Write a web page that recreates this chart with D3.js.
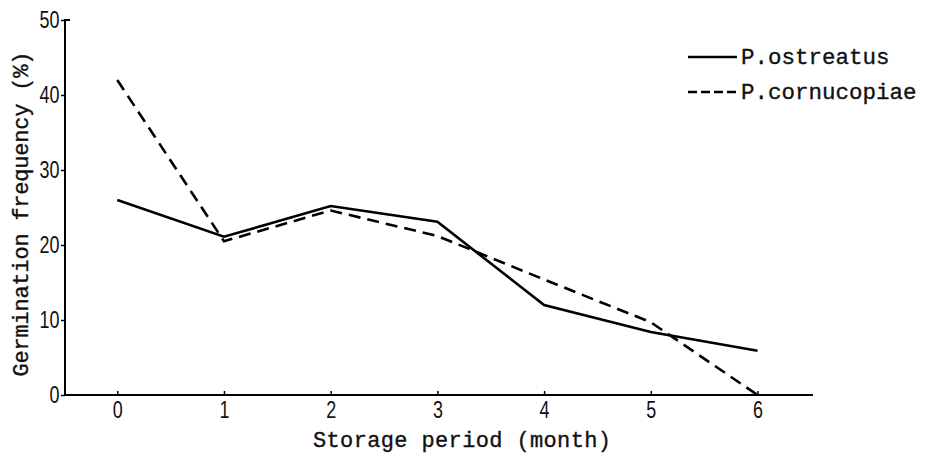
<!DOCTYPE html>
<html>
<head>
<meta charset="utf-8">
<script src="https://cdn.jsdelivr.net/npm/d3@7/dist/d3.min.js"></script>
<style>
  body { margin: 0; background: #fff; }
  .mono { font-family: "Liberation Mono", "Courier New", monospace; fill: #111; stroke: #111; stroke-width: 0.35px; }
  .num { font-family: "Liberation Sans", Arial, sans-serif; }
</style>
</head>
<body>
<script>
// months of storage
var months = [0, 1, 2, 3, 4, 5, 6];

// germination frequency (%)
var ostreatus   = [26, 21.1, 25.2, 23.1, 12.0, 8.4, 5.9];
var cornucopiae = [42, 20.5, 24.6, 21.2, 15.4, 9.7, 0];

var seriesNames = ["P.ostreatus", "P.cornucopiae"];
var yTicks = [0, 10, 20, 30, 40, 50];

var width = 925, height = 458;

var svg = d3.select("body").append("svg")
    .attr("width", width)
    .attr("height", height);

// scales - x runs a bit past 0 and 6 like the original
var x = d3.scaleLinear().domain([-0.49, 6.52]).range([65, 813]);
var y = d3.scaleLinear().domain([0, 50]).range([395, 20]);

// y axis
var yAxis = d3.axisLeft(y).tickValues(yTicks).tickFormat(d3.format("d")).tickSize(4).tickPadding(3);
var yg = svg.append("g").attr("transform", "translate(65,0)").call(yAxis);
yg.select(".domain").attr("stroke-width", 2).attr("d", "M0,395V20H5");
yg.selectAll(".tick line").attr("stroke-width", 1.5);
yg.selectAll(".tick text")
    .attr("class", "num")
    .attr("font-size", 23)
    .attr("fill", "#111")
    .attr("transform", "scale(0.78,1)");

// x axis
var xAxis = d3.axisBottom(x).tickValues(months).tickFormat(d3.format("d")).tickSize(-4).tickPadding(7);
var xg = svg.append("g").attr("transform", "translate(0,395)").call(xAxis);
xg.select(".domain").attr("stroke-width", 2).attr("d", "M65,0H813");
xg.selectAll(".tick line").attr("stroke-width", 1.5);
xg.selectAll(".tick text")
    .attr("class", "num")
    .attr("font-size", 23)
    .attr("fill", "#111")
    .attr("transform", "scale(0.78,1)");

// lines
var line = d3.line()
    .x(function (d, i) { return x(months[i]); })
    .y(function (d) { return y(d); });

svg.append("path")
    .datum(ostreatus)
    .attr("fill", "none")
    .attr("stroke", "#000")
    .attr("stroke-width", 2.6)
    .attr("d", line);

svg.append("path")
    .datum(cornucopiae)
    .attr("fill", "none")
    .attr("stroke", "#000")
    .attr("stroke-width", 2.6)
    .attr("stroke-dasharray", "12,7")
    .attr("d", line);

// axis titles
svg.append("text")
    .attr("class", "mono")
    .attr("x", 462).attr("y", 447)
    .attr("text-anchor", "middle")
    .attr("font-size", 22)
    .attr("textLength", 298)
    .text("Storage period (month)");

svg.append("text")
    .attr("class", "mono")
    .attr("transform", "translate(28,214) rotate(-90)")
    .attr("text-anchor", "middle")
    .attr("font-size", 22)
    .attr("textLength", 325)
    .text("Germination frequency (%)");

// legend
var legend = svg.append("g");
seriesNames.forEach(function (name, i) {
    var ly = 57 + i * 35;
    legend.append("line")
        .attr("x1", 688).attr("x2", 737)
        .attr("y1", ly).attr("y2", ly)
        .attr("stroke", "#000")
        .attr("stroke-width", 2.4)
        .attr("stroke-dasharray", i == 1 ? "9,4" : null);
    legend.append("text")
        .attr("class", "mono")
        .attr("x", 741).attr("y", ly + 7)
        .attr("font-size", 22.5)
        .text(name);
});
</script>
</body>
</html>
